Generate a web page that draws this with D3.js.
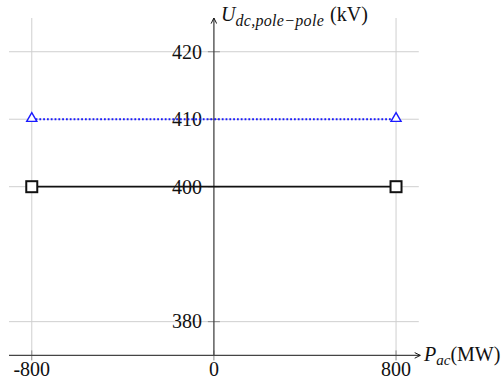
<!DOCTYPE html>
<html><head><meta charset="utf-8">
<script src="https://cdn.jsdelivr.net/npm/d3@7"></script>
<style>
html,body{margin:0;padding:0;background:#fff;}
svg text{font-family:"Liberation Serif","DejaVu Serif",serif;}
</style></head>
<body>
<svg id="c" width="504" height="390"></svg>
<script>
const pAc = [-800, 800];
const uMain = [400, 400];
const uUpper = [410, 410];
const xTicks = [-800, 0, 800];
const yTicks = [380, 400, 410, 420];
const xDomain = [-900, 900];
const yDomain = [375, 425];

const svg = d3.select("#c");
const x = d3.scaleLinear().domain(xDomain).range([9, 418.8]);
const y = d3.scaleLinear().domain(yDomain).range([355.4, 18]);
const gridC = "#cfcfcf", axisC = "#454545";

// grid
svg.append("g").selectAll("line").data(yTicks).join("line")
  .attr("x1", x(xDomain[0])).attr("x2", x(xDomain[1]))
  .attr("y1", d => y(d)).attr("y2", d => y(d))
  .attr("stroke", gridC).attr("stroke-width", 1);
svg.append("g").selectAll("line").data(xTicks.filter(d => d !== 0)).join("line")
  .attr("y1", y(yDomain[0])).attr("y2", y(yDomain[1]))
  .attr("x1", d => x(d)).attr("x2", d => x(d))
  .attr("stroke", gridC).attr("stroke-width", 1);

// defs arrow
svg.append("defs").append("marker").attr("id", "arr")
  .attr("viewBox", "0 0 10 10").attr("refX", 9).attr("refY", 5)
  .attr("markerWidth", 7).attr("markerHeight", 7).attr("markerUnits", "userSpaceOnUse")
  .attr("orient", "auto")
  .append("path").attr("d", "M1,1 L9,5 L1,9").attr("fill", "none").attr("stroke", "#111").attr("stroke-width", 1.4);

const x0 = x(0), yb = y(yDomain[0]);
// ticks
svg.append("g").selectAll("line").data(yTicks).join("line")
  .attr("x1", x0 - 6).attr("x2", x0 + 6)
  .attr("y1", d => y(d)).attr("y2", d => y(d))
  .attr("stroke", "#8a8a8a").attr("stroke-width", 1);
svg.append("g").selectAll("line").data(xTicks).join("line")
  .attr("y1", yb - 5).attr("y2", yb + 5)
  .attr("x1", d => x(d)).attr("x2", d => x(d))
  .attr("stroke", "#8a8a8a").attr("stroke-width", 1);

// axes
svg.append("line").attr("x1", x(xDomain[0])).attr("x2", x(xDomain[1]) + 1.5)
  .attr("y1", yb).attr("y2", yb).attr("stroke", axisC).attr("stroke-width", 1.3)
  .attr("marker-end", "url(#arr)");
svg.append("line").attr("x1", x0).attr("x2", x0)
  .attr("y1", yb).attr("y2", y(yDomain[1])).attr("stroke", axisC).attr("stroke-width", 1.3)
  .attr("marker-end", "url(#arr)");

// tick labels
svg.append("g").selectAll("text").data(yTicks).join("text")
  .attr("x", x0 - 12).attr("y", d => y(d)).attr("dy", "0.34em")
  .attr("text-anchor", "end").attr("font-size", 20).attr("fill", "#111")
  .text(d => d);
svg.append("g").selectAll("text").data(xTicks).join("text")
  .attr("x", d => x(d)).attr("y", yb + 21)
  .attr("text-anchor", "middle").attr("font-size", 20).attr("fill", "#111")
  .text(d => d);

// series
const idx = d3.range(pAc.length);
const line = vals => d3.line().x(i => x(pAc[i])).y(i => y(vals[i]))(idx);
svg.append("path").attr("d", line(uUpper)).attr("fill", "none")
  .attr("stroke", "#1a1aff").attr("stroke-width", 2).attr("stroke-dasharray", "1.8 2");
svg.append("path").attr("d", line(uMain)).attr("fill", "none")
  .attr("stroke", "#111").attr("stroke-width", 1.8);
svg.append("g").selectAll("path").data(idx).join("path")
  .attr("d", d3.symbol().type(d3.symbolTriangle).size(44))
  .attr("transform", i => `translate(${x(pAc[i])},${y(uUpper[i]) - 0.8})`)
  .attr("fill", "#fff").attr("stroke", "#1a1aff").attr("stroke-width", 1.4);
svg.append("g").selectAll("rect").data(idx).join("rect")
  .attr("x", i => x(pAc[i]) - 5.5).attr("y", i => y(uMain[i]) - 5.5)
  .attr("width", 11).attr("height", 11)
  .attr("fill", "#fff").attr("stroke", "#111").attr("stroke-width", 2);

// axis labels
const xl = svg.append("text").attr("x", 424).attr("y", yb + 6).attr("font-size", 20).attr("fill", "#111");
xl.append("tspan").attr("font-style", "italic").text("P");
xl.append("tspan").attr("font-style", "italic").attr("font-size", 15).attr("dy", 4).text("ac");
xl.append("tspan").attr("dy", -4).text("(MW)");

const yl = svg.append("text").attr("x", 221).attr("y", 21).attr("font-size", 20).attr("fill", "#111");
yl.append("tspan").attr("font-style", "italic").text("U");
yl.append("tspan").attr("font-style", "italic").attr("font-size", 16).attr("letter-spacing", 0.3).attr("dy", 4.5).text("dc,pole\u2212pole");
yl.append("tspan").attr("dy", -4.5).attr("dx", 1).text("\u00a0(kV)");
</script>
</body></html>
